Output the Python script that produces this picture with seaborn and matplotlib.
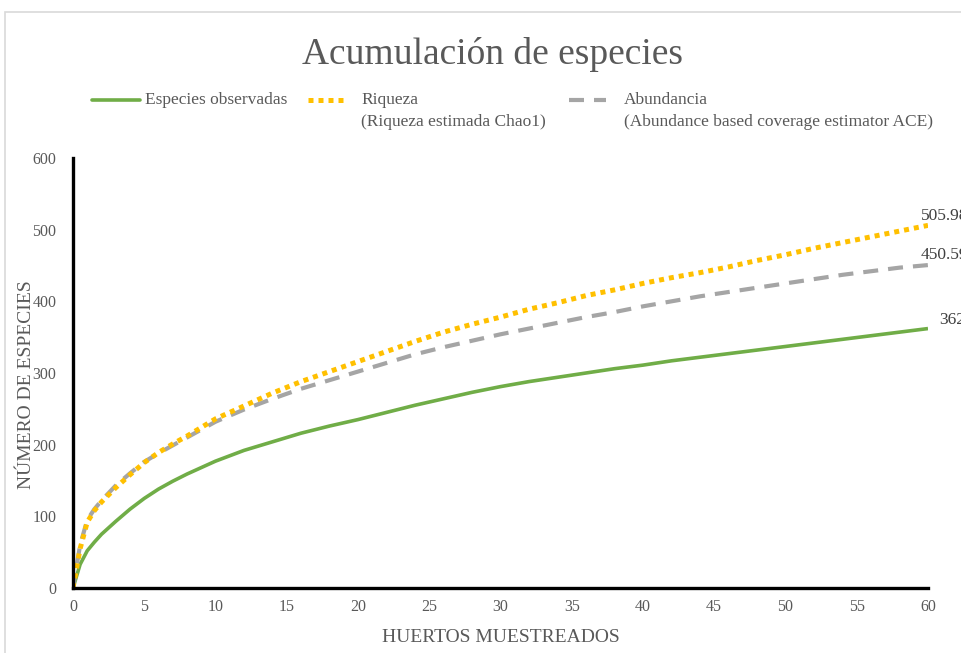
"""
Species accumulation curve: observed species vs Chao1 and ACE estimators.
"""

import matplotlib
matplotlib.use("Agg")
import matplotlib.pyplot as plt
from matplotlib.lines import Line2D
from matplotlib.patches import Rectangle
import pandas as pd
import seaborn as sns

# Sampled orchards (x axis)
huertos = [0, 0.5, 1, 1.5, 2, 3, 4, 5, 6, 7, 8, 10, 12, 14, 16, 18, 20, 22, 24, 26,
           28, 30, 32, 34, 36, 38, 40, 42, 44, 46, 48, 50, 52, 54, 56, 58, 60]

observadas = [0, 33, 52, 64, 75, 93, 110, 125, 138, 149, 159, 177, 192, 204, 216, 226,
              235, 245, 255, 264, 273, 281, 288, 294, 300, 306, 311, 317, 322, 327,
              332, 337, 342, 347, 352, 357, 362]

# Chao1 richness estimate
chao1 = [0, 55, 92, 108, 120, 140, 158, 175, 189, 201, 212, 236, 254, 272, 288, 302,
         316, 330, 344, 357, 368, 378, 389, 398, 408, 416, 425, 433, 440, 448, 457,
         465, 474, 482, 490, 498, 505.98]

# ACE abundance estimate
ace = [0, 60, 95, 110, 122, 143, 160, 176, 188, 199, 210, 232, 249, 264, 278, 290,
       302, 314, 326, 336, 345, 354, 362, 370, 378, 385, 393, 400, 407, 413, 419,
       425, 431, 437, 442, 447, 450.59]

end_labels = ["362", "505.98", "450.59"]

x_ticks = list(range(0, 61, 5))
y_ticks = list(range(0, 601, 100))

GREEN = "#70AD47"
YELLOW = "#FFC000"
GRAY = "#A5A5A5"
TXT = "#595959"

sns.set_style("white")
plt.rcParams["font.family"] = ["Liberation Serif", "DejaVu Serif"]

df = pd.DataFrame({"huertos": huertos, "obs": observadas,
                   "chao1": chao1, "ace": ace})

fig = plt.figure(figsize=(9.61, 6.53), dpi=100)
ax = fig.add_axes([73 / 961, 1 - 588 / 653, 855 / 961, 430 / 653])

sns.lineplot(data=df, x="huertos", y="obs", ax=ax, color=GREEN, lw=2.6,
             legend=False, solid_capstyle="butt")
sns.lineplot(data=df, x="huertos", y="ace", ax=ax, color=GRAY, lw=3.0,
             linestyle=(0, (3.6, 2.4)), legend=False)
sns.lineplot(data=df, x="huertos", y="chao1", ax=ax, color=YELLOW, lw=3.6,
             linestyle=(0, (1, 1)), legend=False)

ax.set_xlim(0, 60)
ax.set_ylim(0, 600)
ax.set_xticks(x_ticks)
ax.set_yticks(y_ticks)
ax.tick_params(axis="both", length=0, labelsize=11.5, labelcolor=TXT)
ax.tick_params(axis="y", pad=12)
ax.tick_params(axis="x", pad=8)
for side in ["top", "right"]:
    ax.spines[side].set_visible(False)
for side in ["left", "bottom"]:
    ax.spines[side].set_color("black")
    ax.spines[side].set_linewidth(2.4)

ax.set_xlabel("HUERTOS MUESTREADOS", fontsize=14, color=TXT, labelpad=10)
ax.set_ylabel("NÚMERO DE ESPECIES", fontsize=14, color=TXT)
ax.yaxis.set_label_coords(-0.045, 0.472)

# data labels at the last point of each series
last = [observadas[-1], chao1[-1], ace[-1]]
offsets = [(8, 6), (-5, 7), (-5, 7)]
for val, lab, off in zip(last, end_labels, offsets):
    ax.annotate(lab, xy=(huertos[-1], val), xytext=off, textcoords="offset points",
                ha="left", va="center", fontsize=12.5, color="#404040",
                annotation_clip=False)

fig.text(492 / 961, 1 - 55 / 653, "Acumulación de especies", ha="center",
         va="center", fontsize=27, color=TXT)

# legend drawn on the figure, handles aligned with the first text line
leg_y = 1 - 100 / 653
leg_y2 = 1 - 122 / 653
items = [
    (92, 140, GREEN, 2.6, "-", 145, "Especies observadas", None),
    (308, 347, YELLOW, 3.6, (0, (1, 1)), 361, "Riqueza", "(Riqueza estimada Chao1)"),
    (569, 606, GRAY, 3.0, (0, (3.6, 2.4)), 624, "Abundancia",
     "(Abundance based coverage estimator ACE)"),
]
for x0, x1, col, lw, ls, tx, l1, l2 in items:
    fig.add_artist(Line2D([x0 / 961, x1 / 961], [leg_y, leg_y], color=col, lw=lw,
                          linestyle=ls, transform=fig.transFigure))
    fig.text(tx / 961, leg_y, l1, ha="left", va="center", fontsize=12.5, color=TXT)
    if l2:
        fig.text(tx / 961, leg_y2, l2, ha="left", va="center", fontsize=12.5, color=TXT)

# chart area border
fig.add_artist(Rectangle((5 / 961, -0.1), 1.2, 1 - 12 / 653 + 0.1, fill=False,
                         edgecolor="#D9D9D9", lw=1.2, transform=fig.transFigure))

fig.savefig("out.png", dpi=100)
